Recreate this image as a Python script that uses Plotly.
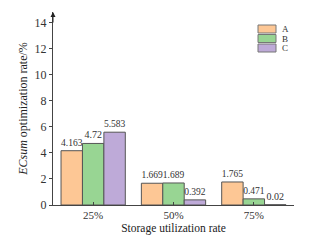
import plotly.graph_objects as go

categories = ["25%", "50%", "75%"]
series_names = ["A", "B", "C"]
values_A = [4.163, 1.669, 1.765]
values_B = [4.72, 1.689, 0.471]
values_C = [5.583, 0.392, 0.02]
colors = ["#FDC795", "#98D593", "#BEAAD8"]
text_A = ["4.163", "1.669", "1.765"]
text_B = ["4.72", "1.689", "0.471"]
text_C = ["5.583", "0.392", "0.02"]

font_family = "Liberation Serif, Times New Roman, serif"

W, H = 322, 249
# page body adds an 8px offset; plot area target in window: x 53..294, y 12..205
OFF = 8
PX0, PX1, PY0, PY1 = 53, 294, 12, 205
ML, MT = PX0 - OFF, PY0 - OFF
MR, MB = W + OFF - PX1, H + OFF - PY1

fig = go.Figure()
for name, vals, txt, col in zip(series_names, [values_A, values_B, values_C],
                                [text_A, text_B, text_C], colors):
    fig.add_trace(go.Bar(
        name=name, x=categories, y=vals, text=txt,
        textposition="outside", cliponaxis=False,
        textfont=dict(family=font_family, size=10, color="#333333"),
        marker=dict(color=col, line=dict(color="#555555", width=1)),
        showlegend=False,
    ))

fig.update_layout(
    width=W, height=H,
    margin=dict(l=ML, r=MR, t=MT, b=MB, autoexpand=False),
    barmode="group", bargap=0.2, bargroupgap=0,
    plot_bgcolor="white", paper_bgcolor="white",
    font=dict(family=font_family, size=11, color="#333333"),
    xaxis=dict(
        range=[-0.5, 2.5], showline=True, linecolor="#444444", linewidth=1,
        ticks="inside", ticklen=3, tickcolor="#444444", automargin=False,
        tickfont=dict(family=font_family, size=11, color="#333333"),
        title=dict(text="Storage utilization rate", standoff=3,
                   font=dict(family=font_family, size=11.5, color="#222222")),
        showgrid=False, zeroline=False,
    ),
    yaxis=dict(
        range=[0, 14.8], tickvals=[0, 2, 4, 6, 8, 10, 12, 14],
        showline=True, linecolor="#444444", linewidth=1,
        ticks="outside", ticklen=3, tickcolor="#444444", automargin=False,
        tickfont=dict(family=font_family, size=12, color="#333333"),
        title=dict(text="<i>ECsum</i> optimization rate/%", standoff=4,
                   font=dict(family=font_family, size=12, color="#222222")),
        showgrid=False, zeroline=False,
    ),
)

# axis arrow at top of y-axis
fig.add_annotation(
    xref="paper", yref="paper", x=0, y=1.0, ax=0, ay=12,
    showarrow=True, arrowhead=2, arrowsize=1, arrowwidth=1,
    arrowcolor="#222222", text="",
)

# compact legend (boxes with labels), in window-pixel terms of the plot area
def px_x(p):
    return (p - PX0) / (PX1 - PX0)

def px_y(p):
    return (PY1 - p) / (PY1 - PY0)

for i, (name, col) in enumerate(zip(series_names, colors)):
    top = 25 + i * 9.5
    fig.add_shape(type="rect", xref="paper", yref="paper",
                  x0=px_x(258), x1=px_x(276), y0=px_y(top + 8), y1=px_y(top),
                  fillcolor=col, line=dict(color="#777777", width=1))
    fig.add_annotation(xref="paper", yref="paper", x=px_x(280), y=px_y(top + 4),
                       xanchor="left", yanchor="middle", showarrow=False,
                       text=name, font=dict(family=font_family, size=9, color="#333333"))

fig.write_html("out.html")
